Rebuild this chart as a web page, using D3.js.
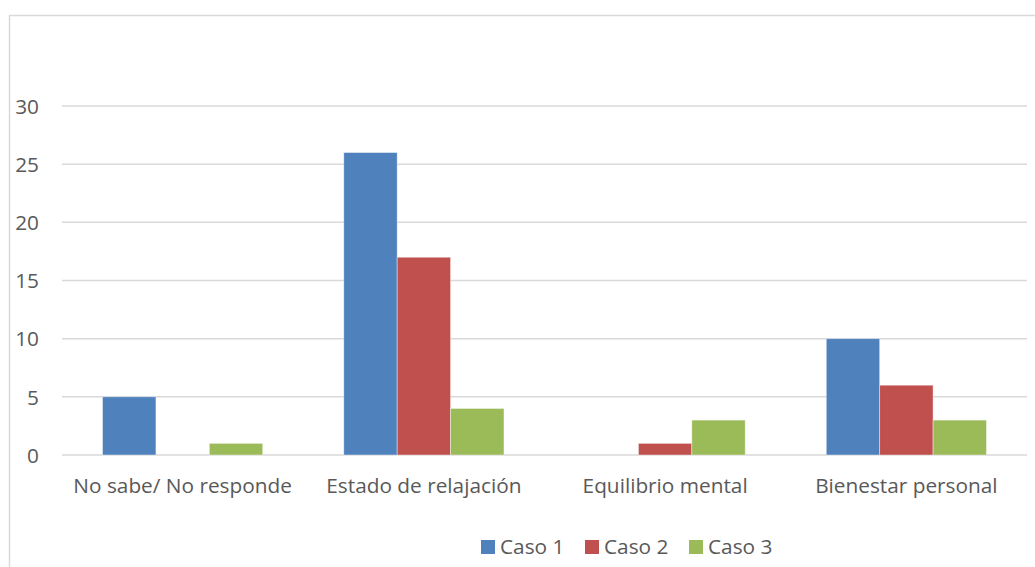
<!DOCTYPE html>
<html>
<head>
<meta charset="utf-8">
<script src="https://cdn.jsdelivr.net/npm/d3@7"></script>
<style>
  html, body { margin: 0; padding: 0; background: #fff; }
  svg { display: block; font-family: "Open Sans", "Noto Sans", sans-serif; }
</style>
</head>
<body>
<svg id="chart" width="1035" height="567"></svg>
<script>
// Responses per category, one array per case
const categories = ["No sabe/ No responde", "Estado de relajación", "Equilibrio mental", "Bienestar personal"];
const seriesNames = ["Caso 1", "Caso 2", "Caso 3"];
const caso1 = [5, 26, 0, 10];
const caso2 = [0, 17, 1, 6];
const caso3 = [1, 4, 3, 3];
const yTicks = [0, 5, 10, 15, 20, 25, 30];
const colors = ["#4F81BD", "#C0504D", "#9BBB59"];

const series = [caso1, caso2, caso3];
const data = categories.map((c, i) => ({ cat: c, values: series.map((s, k) => ({ key: seriesNames[k], value: s[i] })) }));

const svg = d3.select("#chart");
const plot = { left: 62, right: 1027, top: 106, bottom: 455 };
const fontSize = 20.8;
const textColor = "#595959";

// Chart frame
svg.append("rect")
  .attr("x", 9.5).attr("y", 15.5)
  .attr("width", 1040).attr("height", 600)
  .attr("fill", "none").attr("stroke", "#d9d9d9").attr("stroke-width", 1.5);

const x0 = d3.scaleBand().domain(categories).range([plot.left, plot.right]).paddingInner(0.336).paddingOuter(0.168);
const x1 = d3.scaleBand().domain(seriesNames).range([0, x0.bandwidth()]);
const y = d3.scaleLinear().domain([0, 30]).range([plot.bottom, plot.top]);

// Horizontal gridlines
svg.append("g").selectAll("line").data(yTicks).join("line")
  .attr("x1", plot.left).attr("x2", plot.right)
  .attr("y1", d => y(d)).attr("y2", d => y(d))
  .attr("stroke", "#d9d9d9").attr("stroke-width", 1.5);

// Y axis labels
const yAxis = d3.axisLeft(y).tickValues(yTicks).tickSize(0).tickPadding(0);
const ya = svg.append("g").attr("transform", `translate(39,0)`).call(yAxis);
ya.select(".domain").remove();
ya.selectAll("text").attr("font-size", fontSize).attr("fill", textColor).attr("font-family", "Open Sans, sans-serif").attr("dy", "0.35em");

// Bars
const groups = svg.append("g").selectAll("g").data(data).join("g")
  .attr("transform", d => `translate(${x0(d.cat)},0)`);
groups.selectAll("rect").data(d => d.values.filter(v => v.value > 0)).join("rect")
  .attr("x", d => x1(d.key))
  .attr("width", x1.bandwidth())
  .attr("y", d => y(d.value))
  .attr("height", d => y(0) - y(d.value))
  .attr("fill", (d) => colors[seriesNames.indexOf(d.key)])
  .attr("stroke", "#ffffff").attr("stroke-opacity", 0.5).attr("stroke-width", 0.8);

// Category labels
const xAxis = d3.axisBottom(x0).tickSize(0).tickPadding(0);
const xa = svg.append("g").attr("transform", `translate(0,${plot.bottom + 31})`).call(xAxis);
xa.select(".domain").remove();
xa.selectAll("text").attr("font-size", fontSize).attr("fill", textColor).attr("font-family", "Open Sans, sans-serif").attr("dy", "0.35em");

// Legend
const legendX = [481, 585, 689];
const legend = svg.append("g").selectAll("g").data(seriesNames).join("g")
  .attr("transform", (d, i) => `translate(${legendX[i]},540)`);
legend.append("rect").attr("width", 14).attr("height", 14).attr("fill", (d, i) => colors[i]);
legend.append("text").attr("x", 19).attr("y", 7).attr("dy", "0.35em")
  .attr("font-size", fontSize).attr("fill", textColor).text(d => d);
</script>
</body>
</html>
